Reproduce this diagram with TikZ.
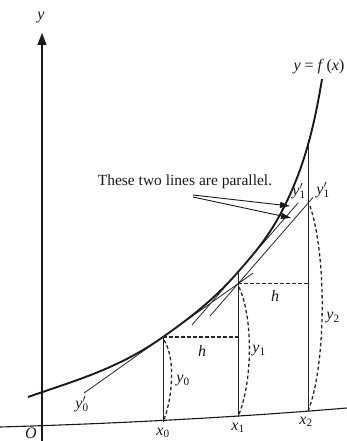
\documentclass[tikz,border=0pt]{standalone}
\usepackage{fontspec}
\setmainfont{Liberation Serif}
\usetikzlibrary{arrows.meta}
\newcommand{\ylab}[1]{\textit{y}\textsubscript{#1}}
\newcommand{\yplab}[1]{\textit{y}\rlap{$'$}\textsubscript{#1}}
\newcommand{\xlab}[1]{\textit{x}\textsubscript{#1}}
\begin{document}
\begin{tikzpicture}[x=1pt,y=-1pt,
  lbl/.style={font=\fontsize{15.5}{17}\selectfont, inner sep=0pt, text=black!90},
  mlbl/.style={font=\fontsize{16}{18}\selectfont, inner sep=0pt, text=black!90},
  axisline/.style={line width=1.1pt, draw=black!90},
  curveline/.style={line width=1.9pt, draw=black!90},
  thinline/.style={line width=0.8pt, draw=black!85},
  vline/.style={line width=1pt, draw=black!85},
  dashline/.style={line width=1.3pt, draw=black!85, dash pattern=on 3.5pt off 2.5pt},
  ptr/.style={line width=0.9pt, draw=black!90, -{Triangle[length=10pt,width=6pt]}}
]
\useasboundingbox (0,0) rectangle (347,441);
% axes
\coordinate (Ytop) at (42,33);
\coordinate (Ybot) at (42,441);
\coordinate (Xl) at (0,427);
\coordinate (Xr) at (347,408);
\draw[axisline, -{Triangle[length=12pt,width=9pt]}] (Ybot) -- (Ytop);
\draw[axisline] (Xl) .. controls (120,423.5) and (240,417) .. (Xr);
% curve points
\coordinate (S) at (28,397);
\coordinate (P0) at (163,337);
\coordinate (P1) at (238,272);
\coordinate (M) at (300,170);
\coordinate (E) at (322,79);
\draw[curveline] (S) .. controls (73,381.25) and (118,369) .. (P0)
  .. controls (188,319.25) and (213,300.75) .. (P1)
  .. controls (258.7,248.2) and (279.3,225.9) .. (M)
  .. controls (307.3,149) and (314.7,124) .. (E);
% Euler points
\coordinate (Q1) at (238,283.75);
\coordinate (Q2) at (308,203.25);
\coordinate (T2) at (308,146);
\coordinate (F0) at (163,421.5);
\coordinate (F1) at (238,416.5);
\coordinate (F2) at (308,411);
\coordinate (H0) at (238,337);
\coordinate (H1) at (308,283.75);
% tangent at P0 (slope y0')
\coordinate (TA0) at (84,393.1);
\coordinate (TA1) at (253,273.1);
\draw[thinline] (TA0) -- (TA1);
% tangent at P1 (line A)
\coordinate (LA0) at (192,324.9);
\coordinate (LA1) at (298,203);
\draw[thinline] (LA0) -- (LA1);
% parallel line through Q1 (line B)
\coordinate (LB0) at (210,316);
\coordinate (LB1) at (313,197.5);
\draw[thinline] (LB0) -- (LB1);
% verticals
\draw[vline] (F0) -- (P0);
\draw[vline] (F1) -- (P1);
\draw[vline] (F2) -- (T2);
% h dashes
\draw[dashline] (P0) -- (H0);
\draw[dashline] (Q1) -- (H1);
% ordinate arcs
\draw[dashline] (164,340) .. controls (177,360) and (171,405) .. (F0);
\draw[dashline] (239,287) .. controls (254,320) and (252,385) .. (F1);
\draw[dashline] (310,206) .. controls (328,260) and (325,370) .. (F2);
% labels
\node[mlbl] (ly) at (41,18) {\textit{y}};
\node[mlbl] (lf) at (319,67) {\textit{y} = \textit{f}\,(\textit{x})};
\node[lbl] (ltext) at (185,182) {These two lines are parallel.};
\node[mlbl] (ly1a) at (299,191) {\yplab{1}};
\node[mlbl] (ly1b) at (323,190) {\yplab{1}};
\node[mlbl] (lh1) at (275,296) {\textit{h}};
\node[mlbl] (lh0) at (202,351) {\textit{h}};
\node[mlbl] (ly0) at (183,381) {\ylab{0}};
\node[mlbl] (ly1) at (259,351) {\ylab{1}};
\node[mlbl] (ly2) at (333,318) {\ylab{2}};
\node[mlbl] (lyp0) at (82,404) {\yplab{0}};
\node[mlbl] (lx0) at (163,433) {\xlab{0}};
\node[mlbl] (lx1) at (238,428) {\xlab{1}};
\node[mlbl] (lx2) at (306,422) {\xlab{2}};
\node[mlbl] (lO) at (31,433) {\textit{O}};
% pointers
\coordinate (A0) at (193,195);
\coordinate (A1) at (290,206);
\coordinate (B0) at (193,197);
\coordinate (B1) at (291,218);
\draw[ptr] (A0) -- (A1);
\draw[ptr] (B0) -- (B1);
\end{tikzpicture}
\end{document}
